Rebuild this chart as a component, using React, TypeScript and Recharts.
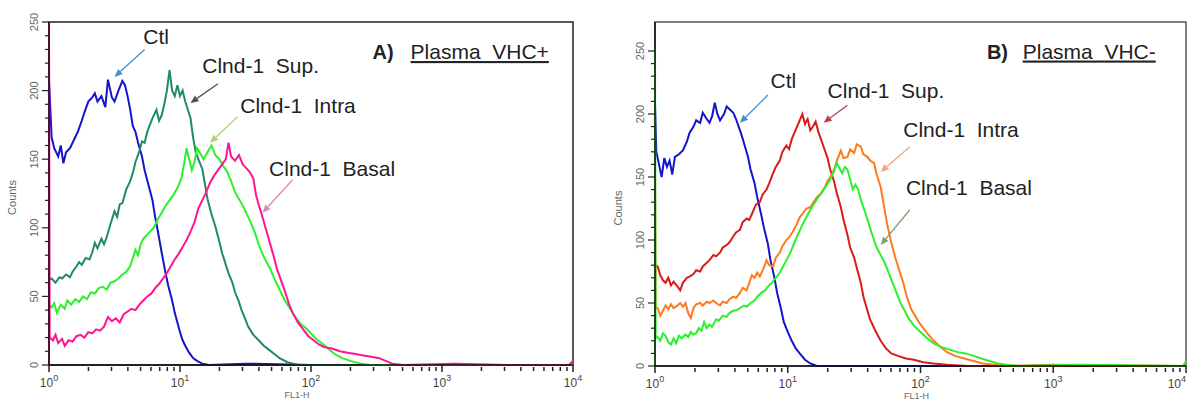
import { LineChart, Line, XAxis, YAxis, ReferenceArea, ReferenceLine, ReferenceDot } from "recharts"

type Pt = [number, number]

// x = FL1-H position in decades (10^x), y = counts

// Panel A: Plasma VHC+
const ctlA: Pt[] = [
  [0, 208], [0.02, 166], [0.04, 158], [0.07, 152], [0.09, 160], [0.11, 147], [0.13, 155], [0.16, 158],
  [0.18, 162], [0.22, 170], [0.25, 178], [0.27, 184], [0.3, 192], [0.33, 195], [0.35, 198], [0.37, 192],
  [0.4, 196], [0.43, 188], [0.45, 208], [0.48, 195], [0.5, 192], [0.53, 200], [0.56, 207], [0.58, 204],
  [0.6, 196], [0.62, 186], [0.64, 174], [0.66, 170], [0.68, 162], [0.71, 152], [0.73, 142], [0.76, 131],
  [0.79, 120], [0.81, 108], [0.83, 98], [0.86, 82], [0.89, 67], [0.91, 58], [0.94, 47], [0.96, 38],
  [0.98, 31], [1.0, 24], [1.02, 18], [1.04, 14], [1.07, 9], [1.1, 5], [1.13, 3], [1.17, 1], [1.22, 0],
  [1.5, 1], [2, 0], [4, 0],
]
const supA: Pt[] = [
  [0, 62], [0.02, 63], [0.05, 60], [0.08, 64], [0.1, 63], [0.13, 66], [0.16, 64], [0.18, 68], [0.21, 72],
  [0.23, 75], [0.25, 73], [0.28, 78], [0.31, 77], [0.33, 82], [0.35, 89], [0.37, 85], [0.4, 92], [0.42, 88],
  [0.44, 93], [0.47, 103], [0.5, 112], [0.52, 108], [0.54, 117], [0.56, 118], [0.59, 128], [0.62, 134],
  [0.64, 140], [0.66, 148], [0.69, 156], [0.71, 163], [0.73, 162], [0.75, 170], [0.77, 175], [0.79, 180],
  [0.82, 186], [0.84, 178], [0.86, 182], [0.88, 190], [0.9, 200], [0.92, 215], [0.94, 200], [0.96, 196],
  [0.98, 204], [1.0, 196], [1.02, 200], [1.04, 192], [1.06, 186], [1.08, 180], [1.1, 166], [1.12, 155],
  [1.14, 150], [1.17, 143], [1.19, 132], [1.21, 121], [1.24, 110], [1.27, 101], [1.3, 90], [1.32, 82],
  [1.35, 73], [1.37, 67], [1.4, 60], [1.42, 53], [1.45, 46], [1.47, 40], [1.5, 33], [1.52, 28], [1.56, 22],
  [1.6, 18], [1.64, 14], [1.68, 11], [1.72, 8], [1.76, 5], [1.82, 2], [1.9, 0], [2.2, 0], [4, 0],
]
const intraA: Pt[] = [
  [0, 44], [0.02, 42], [0.04, 45], [0.06, 38], [0.09, 44], [0.12, 41], [0.14, 47], [0.17, 44], [0.2, 48],
  [0.23, 46], [0.26, 50], [0.29, 48], [0.32, 53], [0.35, 52], [0.38, 56], [0.41, 57], [0.44, 55], [0.47, 60],
  [0.5, 61], [0.53, 63], [0.56, 66], [0.59, 68], [0.62, 72], [0.64, 78], [0.66, 84], [0.68, 80], [0.7, 88],
  [0.72, 92], [0.74, 94], [0.77, 97], [0.8, 100], [0.83, 106], [0.86, 111], [0.89, 116], [0.92, 120],
  [0.95, 124], [0.98, 129], [1.01, 136], [1.03, 146], [1.05, 158], [1.07, 150], [1.09, 142], [1.11, 148],
  [1.13, 158], [1.15, 155], [1.18, 150], [1.21, 155], [1.24, 160], [1.27, 153], [1.3, 150], [1.33, 145],
  [1.36, 141], [1.39, 134], [1.42, 126], [1.45, 121], [1.48, 116], [1.51, 110], [1.54, 104], [1.57, 97],
  [1.6, 88], [1.63, 81], [1.66, 75], [1.69, 70], [1.72, 63], [1.76, 55], [1.8, 47], [1.84, 41], [1.88, 35],
  [1.92, 30], [1.96, 27], [2.0, 23], [2.04, 19], [2.08, 16], [2.13, 12], [2.18, 8], [2.24, 5], [2.3, 3],
  [2.38, 1], [2.45, 0], [4, 0],
]
const basalA: Pt[] = [
  [0, 0], [0, 250], [0.005, 20], [0.03, 18], [0.05, 22], [0.07, 16], [0.1, 19], [0.12, 14], [0.15, 18],
  [0.18, 17], [0.21, 21], [0.24, 22], [0.27, 20], [0.3, 24], [0.33, 23], [0.36, 26], [0.39, 25], [0.42, 28],
  [0.45, 35], [0.48, 32], [0.51, 34], [0.54, 31], [0.57, 37], [0.6, 39], [0.63, 41], [0.66, 40], [0.69, 44],
  [0.72, 47], [0.75, 50], [0.78, 52], [0.81, 56], [0.84, 59], [0.87, 63], [0.9, 67], [0.93, 72], [0.96, 77],
  [0.99, 81], [1.02, 86], [1.05, 91], [1.08, 97], [1.11, 104], [1.14, 114], [1.17, 120], [1.2, 126],
  [1.23, 133], [1.26, 138], [1.29, 142], [1.32, 146], [1.35, 150], [1.37, 162], [1.39, 152], [1.42, 149],
  [1.45, 153], [1.48, 146], [1.5, 144], [1.53, 141], [1.56, 136], [1.58, 124], [1.6, 117], [1.62, 111],
  [1.65, 101], [1.68, 91], [1.71, 81], [1.74, 70], [1.77, 62], [1.8, 54], [1.83, 45], [1.86, 38], [1.9, 31],
  [1.94, 26], [1.98, 21], [2.02, 18], [2.06, 15], [2.1, 13], [2.16, 12], [2.22, 10], [2.28, 9], [2.34, 8],
  [2.4, 7], [2.46, 6], [2.52, 5], [2.57, 3], [2.62, 1], [2.7, 0], [3.1, 1], [3.5, 0], [3.97, 0], [4, 3],
]

// Panel B: Plasma VHC-
const ctlB: Pt[] = [
  [0, 209], [0.01, 170], [0.03, 160], [0.05, 150], [0.07, 165], [0.09, 158], [0.11, 163], [0.13, 152],
  [0.15, 166], [0.18, 168], [0.21, 171], [0.24, 178], [0.26, 185], [0.29, 190], [0.31, 195], [0.34, 193],
  [0.36, 201], [0.39, 196], [0.41, 193], [0.43, 198], [0.45, 209], [0.47, 200], [0.49, 195], [0.52, 200],
  [0.54, 206], [0.57, 203], [0.59, 201], [0.61, 196], [0.63, 190], [0.65, 184], [0.67, 177], [0.7, 166],
  [0.72, 156], [0.75, 145], [0.77, 134], [0.8, 120], [0.82, 110], [0.85, 97], [0.87, 84], [0.9, 70],
  [0.92, 58], [0.95, 45], [0.97, 35], [1.0, 27], [1.03, 20], [1.06, 14], [1.09, 10], [1.13, 5], [1.17, 2],
  [1.22, 0], [2, 0], [4, 0],
]
const supB: Pt[] = [
  [0, 80], [0.02, 79], [0.04, 72], [0.06, 68], [0.08, 66], [0.1, 70], [0.12, 64], [0.14, 67], [0.17, 63],
  [0.19, 60], [0.21, 66], [0.24, 70], [0.26, 71], [0.29, 73], [0.31, 76], [0.34, 75], [0.36, 79], [0.39, 82],
  [0.41, 84], [0.44, 88], [0.46, 87], [0.49, 90], [0.51, 94], [0.54, 96], [0.56, 98], [0.59, 103],
  [0.61, 106], [0.64, 108], [0.66, 114], [0.69, 117], [0.71, 116], [0.74, 123], [0.76, 128], [0.79, 130],
  [0.81, 136], [0.84, 140], [0.86, 145], [0.89, 153], [0.91, 158], [0.94, 163], [0.96, 170], [0.99, 175],
  [1.01, 172], [1.03, 180], [1.05, 185], [1.07, 190], [1.09, 195], [1.11, 200], [1.13, 192], [1.15, 196],
  [1.17, 187], [1.19, 190], [1.21, 194], [1.23, 186], [1.25, 180], [1.27, 174], [1.3, 165], [1.32, 156],
  [1.35, 146], [1.37, 137], [1.4, 126], [1.42, 116], [1.45, 104], [1.47, 94], [1.5, 86], [1.52, 78],
  [1.55, 66], [1.57, 55], [1.6, 44], [1.62, 37], [1.66, 28], [1.7, 20], [1.74, 14], [1.78, 10], [1.83, 8],
  [1.89, 6], [1.95, 5], [2.02, 3], [2.1, 2], [2.2, 1], [2.35, 0], [4, 0],
]
const intraB: Pt[] = [
  [0, 157], [0.005, 47], [0.02, 46], [0.04, 40], [0.06, 44], [0.08, 48], [0.1, 45], [0.12, 49], [0.14, 46],
  [0.17, 48], [0.19, 50], [0.21, 47], [0.23, 50], [0.25, 42], [0.27, 38], [0.29, 46], [0.31, 49], [0.34, 50],
  [0.36, 48], [0.39, 51], [0.41, 50], [0.44, 52], [0.46, 50], [0.49, 48], [0.51, 51], [0.54, 50], [0.56, 53],
  [0.59, 55], [0.61, 54], [0.64, 58], [0.66, 62], [0.69, 60], [0.71, 66], [0.73, 72], [0.75, 70], [0.77, 74],
  [0.79, 71], [0.82, 78], [0.84, 84], [0.86, 80], [0.89, 79], [0.91, 86], [0.94, 90], [0.96, 95], [0.99, 100],
  [1.01, 102], [1.04, 107], [1.07, 113], [1.09, 118], [1.12, 122], [1.14, 125], [1.17, 126], [1.2, 131],
  [1.22, 134], [1.25, 137], [1.28, 142], [1.3, 147], [1.32, 150], [1.35, 156], [1.37, 163], [1.4, 171],
  [1.42, 165], [1.45, 166], [1.47, 172], [1.5, 169], [1.52, 176], [1.55, 174], [1.57, 168], [1.6, 166],
  [1.62, 163], [1.65, 161], [1.67, 152], [1.7, 142], [1.72, 130], [1.75, 112], [1.78, 98], [1.81, 86],
  [1.84, 76], [1.87, 66], [1.9, 54], [1.93, 45], [1.97, 38], [2.0, 33], [2.05, 26], [2.1, 20], [2.15, 15],
  [2.2, 11], [2.26, 8], [2.33, 6], [2.4, 4], [2.47, 2], [2.55, 1], [2.65, 0], [3, 1], [4, 0],
]
const basalB: Pt[] = [
  [0, 0], [0, 250], [0.005, 22], [0.02, 23], [0.04, 20], [0.06, 26], [0.08, 24], [0.1, 19], [0.12, 17],
  [0.14, 22], [0.16, 18], [0.18, 24], [0.2, 22], [0.23, 25], [0.25, 23], [0.27, 27], [0.29, 25], [0.31, 26],
  [0.33, 30], [0.35, 28], [0.37, 35], [0.39, 30], [0.41, 33], [0.43, 31], [0.46, 37], [0.48, 36], [0.51, 40],
  [0.54, 39], [0.56, 42], [0.59, 44], [0.61, 44], [0.64, 46], [0.67, 48], [0.69, 47], [0.72, 50], [0.75, 52],
  [0.77, 55], [0.8, 58], [0.83, 60], [0.85, 63], [0.88, 66], [0.91, 70], [0.94, 74], [0.97, 80], [0.99, 84],
  [1.02, 90], [1.05, 98], [1.08, 105], [1.11, 112], [1.14, 118], [1.17, 124], [1.2, 129], [1.23, 134],
  [1.26, 138], [1.29, 143], [1.32, 148], [1.35, 155], [1.37, 161], [1.39, 157], [1.41, 153], [1.43, 158],
  [1.45, 156], [1.47, 148], [1.49, 140], [1.51, 144], [1.53, 140], [1.55, 132], [1.58, 123], [1.61, 113],
  [1.64, 103], [1.67, 94], [1.7, 88], [1.73, 82], [1.76, 74], [1.79, 66], [1.82, 58], [1.85, 50], [1.88, 44],
  [1.91, 38], [1.95, 32], [2.0, 27], [2.05, 22], [2.1, 18], [2.16, 15], [2.22, 13], [2.28, 11], [2.34, 10],
  [2.4, 8], [2.46, 6], [2.52, 4], [2.58, 2], [2.65, 1], [2.75, 0], [3.2, 1], [3.98, 0], [4, 4],
]

const decades = [0, 1, 2, 3, 4]
const yTicks = Array.from({ length: 26 }, (_, i) => i * 10)

type Note = { label: string; at: Pt; from: Pt; to: Pt; color: string }

const notesA: Note[] = [
  { label: "Ctl", at: [0.72, 234], from: [0.73, 230], to: [0.5, 210], color: "#4190cf" },
  { label: "Clnd-1  Sup.", at: [1.17, 213], from: [1.29, 205], to: [1.08, 191], color: "#4b5a48" },
  { label: "Clnd-1  Intra", at: [1.46, 184], from: [1.44, 181], to: [1.23, 162], color: "#a8d86a" },
  { label: "Clnd-1  Basal", at: [1.68, 138], from: [1.86, 135], to: [1.63, 111], color: "#d88ab8" },
]
const notesB: Note[] = [
  { label: "Ctl", at: [0.87, 221], from: [0.85, 215], to: [0.64, 193], color: "#4190cf" },
  { label: "Clnd-1  Sup.", at: [1.3, 213], from: [1.45, 207], to: [1.27, 193], color: "#b8404a" },
  { label: "Clnd-1  Intra", at: [1.87, 182], from: [1.92, 174], to: [1.7, 154], color: "#f0a878" },
  { label: "Clnd-1  Basal", at: [1.89, 136], from: [1.92, 124], to: [1.7, 96], color: "#7f9f6f" },
]

const FONT = "'Liberation Sans', Arial, sans-serif"
const rows = (pts: Pt[]) => pts.map(([d, c]) => ({ d, c }))

const xTicks: number[] = []
decades.slice(0, 4).forEach((n) => {
  for (let k = 1; k <= 9; k++) xTicks.push(n + Math.log10(k))
})
xTicks.push(4)

function XTick(props: any) {
  const { x, y, payload, endAlign } = props
  const v = payload.value
  const major = Math.abs(v - Math.round(v)) < 1e-6
  const atEnd = endAlign && v === 4
  return (
    <g>
      <line x1={x} x2={x} y1={y + (major ? 0 : 2)} y2={y + (major ? 7 : 6)} stroke="#222" strokeWidth={1.5} />
      {major && (
        <text x={atEnd ? x : x} y={y + 22} textAnchor={atEnd ? "end" : "middle"} fontSize={12} fill="#444" fontFamily={FONT}>
          10
          <tspan dy={-6} fontSize={9}>
            {Math.round(v)}
          </tspan>
        </text>
      )}
    </g>
  )
}

function YTick(props: any) {
  const { x, y, payload } = props
  const major = payload.value % 50 === 0
  return (
    <g>
      <line x1={x - (major ? 7 : 4)} x2={x} y1={y} y2={y} stroke="#222" strokeWidth={1.2} />
      {major && (
        <text
          x={x - 15}
          y={y}
          textAnchor="middle"
          dominantBaseline="central"
          fontSize={11}
          fill="#666"
          fontFamily={FONT}
          transform={`rotate(-90 ${x - 15} ${y})`}
        >
          {payload.value}
        </text>
      )}
    </g>
  )
}

const arrowShape = (color: string) => (p: any) => {
  const { x1, y1, x2, y2 } = p
  const a = Math.atan2(y2 - y1, x2 - x1)
  const L = 8
  const W = 3.5
  const bx = x2 - L * Math.cos(a)
  const by = y2 - L * Math.sin(a)
  const pts = `${x2},${y2} ${bx - W * Math.sin(a)},${by + W * Math.cos(a)} ${bx + W * Math.sin(a)},${by - W * Math.cos(a)}`
  return (
    <g>
      <line x1={x1} y1={y1} x2={bx} y2={by} stroke={color} strokeWidth={1.3} />
      <polygon points={pts} fill={color} />
    </g>
  )
}

interface Series {
  name: string
  pts: Pt[]
  color: string
}

interface PanelProps {
  left: number
  width: number
  margin: { top: number; right: number; bottom: number; left: number }
  yMax: number
  series: Series[]
  notes: Note[]
  tag: string
  title: string
  titleAt: Pt
  nameAt: Pt
  countsShift: number
  flShift: number
  frame: string
  endAlign: boolean
}

function Panel(p: PanelProps) {
  return (
    <div style={{ position: "absolute", left: p.left, top: 0 }}>
      <LineChart width={p.width} height={400} margin={p.margin}>
        <XAxis
          dataKey="d"
          type="number"
          domain={[0, 4]}
          ticks={xTicks}
          interval={0}
          tickSize={0}
          tickMargin={0}
          height={30}
          axisLine={{ stroke: "#111", strokeWidth: 1.5 }}
          tick={<XTick endAlign={p.endAlign} />}
          label={{
            content: (lp: any) => {
              const vb = lp.viewBox
              return (
                <text x={vb.x + vb.width / 2 + p.flShift} y={vb.y + 33} textAnchor="middle" fontSize={9} fill="#666" fontFamily={FONT}>
                  FL1-H
                </text>
              )
            },
          }}
        />
        <YAxis
          type="number"
          domain={[0, p.yMax]}
          ticks={yTicks}
          interval={0}
          tickSize={0}
          tickMargin={0}
          width={30}
          axisLine={{ stroke: "#111", strokeWidth: 1.5 }}
          tick={<YTick />}
          label={{
            content: (lp: any) => {
              const vb = lp.viewBox
              const cx = vb.x - 7
              const cy = vb.y + vb.height / 2 + p.countsShift
              return (
                <text x={cx} y={cy} textAnchor="middle" dominantBaseline="central" fontSize={11} fill="#666" fontFamily={FONT} transform={`rotate(-90 ${cx} ${cy})`}>
                  Counts
                </text>
              )
            },
          }}
        />
        <ReferenceArea x1={0} x2={4} y1={0} y2={p.yMax} fill="none" fillOpacity={0} stroke={p.frame} strokeWidth={1.5} ifOverflow="visible" />
        {p.series.map((s) => (
          <Line
            key={s.name}
            data={rows(s.pts)}
            dataKey="c"
            name={s.name}
            type="linear"
            stroke={s.color}
            strokeWidth={2}
            dot={false}
            activeDot={false}
            isAnimationActive={false}
          />
        ))}
        {p.notes.map((n) => (
          <ReferenceLine
            key={"arrow-" + n.label}
            segment={[
              { x: n.from[0], y: n.from[1] },
              { x: n.to[0], y: n.to[1] },
            ]}
            ifOverflow="visible"
            shape={arrowShape(n.color)}
          />
        ))}
        {p.notes.map((n) => (
          <ReferenceDot
            key={"text-" + n.label}
            x={n.at[0]}
            y={n.at[1]}
            r={1}
            ifOverflow="visible"
            shape={(sp: any) => (
              <text x={sp.cx} y={sp.cy} fontSize={21} fill="#222" fontFamily={FONT} style={{ whiteSpace: "pre" }}>
                {n.label}
              </text>
            )}
          />
        ))}
        <ReferenceDot
          x={p.titleAt[0]}
          y={p.titleAt[1]}
          r={1}
          ifOverflow="visible"
          shape={(sp: any) => (
            <text x={sp.cx} y={sp.cy} fontSize={20} fontWeight="bold" fill="#222" fontFamily={FONT}>
              {p.tag}
            </text>
          )}
        />
        <ReferenceDot
          x={p.nameAt[0]}
          y={p.nameAt[1]}
          r={1}
          ifOverflow="visible"
          shape={(sp: any) => (
            <text x={sp.cx} y={sp.cy} fontSize={21} fill="#222" fontFamily={FONT} textDecoration="underline" style={{ whiteSpace: "pre", textDecoration: "underline" }}>
              {p.title}
            </text>
          )}
        />
      </LineChart>
    </div>
  )
}

export default function App() {
  return (
    <div style={{ position: "absolute", left: 0, top: 0, width: 1187, height: 400, background: "#fff" }}>
      <Panel
        left={0}
        width={590}
        margin={{ top: 22, right: 17, bottom: 5, left: 19 }}
        yMax={250}
        series={[
          { name: "Ctl", pts: ctlA, color: "#1414c8" },
          { name: "Clnd-1 Sup.", pts: supA, color: "#1f8c68" },
          { name: "Clnd-1 Intra", pts: intraA, color: "#2cf02c" },
          { name: "Clnd-1 Basal", pts: basalA, color: "#ff1493" },
        ]}
        notes={notesA}
        tag="A)"
        title="Plasma  VHC+"
        titleAt={[2.47, 223]}
        nameAt={[2.76, 223]}
        countsShift={4}
        flShift={-14}
        frame="#222"
        endAlign={false}
      />
      <Panel
        left={600}
        width={587}
        margin={{ top: 22, right: 1, bottom: 4, left: 25 }}
        yMax={273}
        series={[
          { name: "Ctl", pts: ctlB, color: "#1414c8" },
          { name: "Clnd-1 Sup.", pts: supB, color: "#d81c1c" },
          { name: "Clnd-1 Intra", pts: intraB, color: "#ff7a1e" },
          { name: "Clnd-1 Basal", pts: basalB, color: "#2cf02c" },
        ]}
        notes={notesB}
        tag="B)"
        title="Plasma  VHC-"
        titleAt={[2.5, 244]}
        nameAt={[2.77, 244]}
        countsShift={14}
        flShift={-4}
        frame="#555"
        endAlign={true}
      />
    </div>
  )
}
